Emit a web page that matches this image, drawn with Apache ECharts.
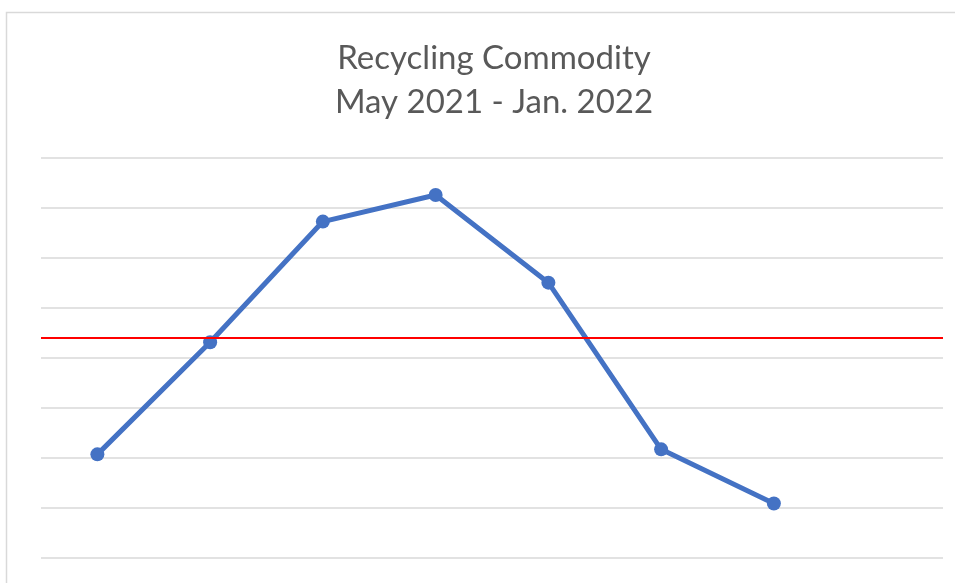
<!DOCTYPE html>
<html><head><meta charset="utf-8">
<script src="https://cdn.jsdelivr.net/npm/echarts@6/dist/echarts.min.js"></script>
<style>html,body{margin:0;padding:0;background:#fff}#c{width:955px;height:583px}</style>
</head><body><div id="c"></div>
<script>
const categories = ['May 2021','Jun 2021','Jul 2021','Aug 2021','Sep 2021','Oct 2021','Nov 2021','Dec 2021'];
const commodityValues = [2.07, 4.31, 6.72, 7.25, 5.50, 2.17, 1.09, null];
const referenceLevel = 4.40;
const titleText = 'Recycling Commodity\nMay 2021 - Jan. 2022';

const chart = echarts.init(document.getElementById('c'), null, {renderer:'canvas'});
chart.setOption({
  animation: false,
  backgroundColor: '#fff',
  graphic: [{
    type: 'rect', shape: {x: 6.5, y: 12.5, width: 1000, height: 700},
    style: {fill: 'none', stroke: '#d9d9d9', lineWidth: 1.5}, silent: true, z: -10
  }],
  title: {
    text: titleText, left: 489, top: 31, textAlign: 'center',
    textStyle: {fontFamily: 'Lato', fontWeight: 'normal', fontSize: 33, color: '#595959', lineHeight: 44}
  },
  grid: {left: 41, right: 12, top: 157.5, bottom: 25},
  xAxis: {
    type: 'category', data: categories, boundaryGap: true,
    axisLine: {show: false}, axisTick: {show: false}, axisLabel: {show: false}, splitLine: {show: false}
  },
  yAxis: {
    type: 'value', min: 0, max: 8, interval: 1,
    axisLine: {show: false}, axisTick: {show: false}, axisLabel: {show: false},
    splitLine: {lineStyle: {color: '#d9d9d9', width: 1.5}}
  },
  series: [{
    type: 'line', data: commodityValues,
    symbol: 'circle', symbolSize: 14,
    lineStyle: {color: '#4472C4', width: 5},
    itemStyle: {color: '#4472C4'},
    markLine: {
      silent: true, symbol: ['none','none'], label: {show: false},
      lineStyle: {color: '#ff0000', width: 2, type: 'solid'},
      data: [{yAxis: referenceLevel}]
    }
  }]
});
</script></body></html>
